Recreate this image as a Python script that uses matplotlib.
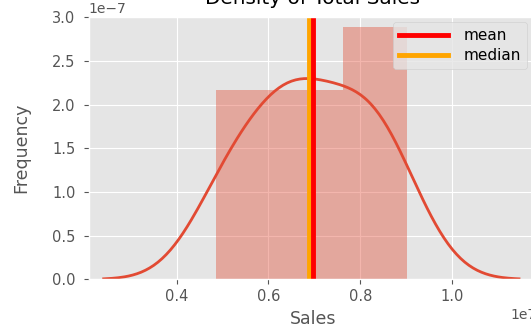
import numpy as np
import matplotlib
matplotlib.use("Agg")
import matplotlib.pyplot as plt

# store sales (10 stores)
sales = np.array([4855000, 5400000, 6000000, 6400000, 6780000,
                  6994000, 7800000, 8100000, 8370000, 9013000], dtype=float)
n_bins = 3
bw_adjust = 0.96
stat_labels = ["mean", "median"]
stat_colors = ["red", "orange"]


def gaussian_kde(data, adjust=1.0, cut=3, gridsize=200):
    # scott's rule, like scipy
    bw = data.std(ddof=1) * len(data) ** (-1 / 5) * adjust
    grid = np.linspace(data.min() - cut * bw, data.max() + cut * bw, gridsize)
    z = (grid[:, None] - data[None, :]) / bw
    dens = np.exp(-0.5 * z ** 2).sum(axis=1) / (len(data) * bw * np.sqrt(2 * np.pi))
    return grid, dens


plt.style.use("ggplot")

fig = plt.figure(figsize=(5.31, 3.31), dpi=100)
ax = fig.add_axes([0.167, 0.156, 0.844, 0.792])

ax.hist(sales, bins=n_bins, density=True, color="#E24A33", alpha=0.4)

x, y = gaussian_kde(sales, adjust=bw_adjust)
ax.plot(x, y, color="#E24A33", lw=2)

ax.axvline(np.median(sales), color=stat_colors[1], lw=3.5, label=stat_labels[1])
ax.axvline(sales.mean(), color=stat_colors[0], lw=3.5, label=stat_labels[0])

handles, labels = ax.get_legend_handles_labels()
ax.legend(handles[::-1], labels[::-1], loc="upper right", fontsize=11,
          handlelength=3.2, handletextpad=1.0, labelspacing=0.35,
          borderaxespad=0.3, bbox_to_anchor=(0.988, 1.0))

ax.set_xlim(0.208e7, 1.185e7)
ax.set_yticks(np.arange(0, 3.01, 0.5) * 1e-7)
ax.set_ylim(0, 3e-7)
ax.tick_params(labelsize=10.5)
ax.tick_params(axis="y", pad=6)
ax.set_xlabel("Sales", fontsize=12.5)
ax.set_ylabel("Frequency", fontsize=12.5, labelpad=16)
ax.set_title("Density of Total Sales", pad=9.5)

fig.savefig("out.png", dpi=100)
